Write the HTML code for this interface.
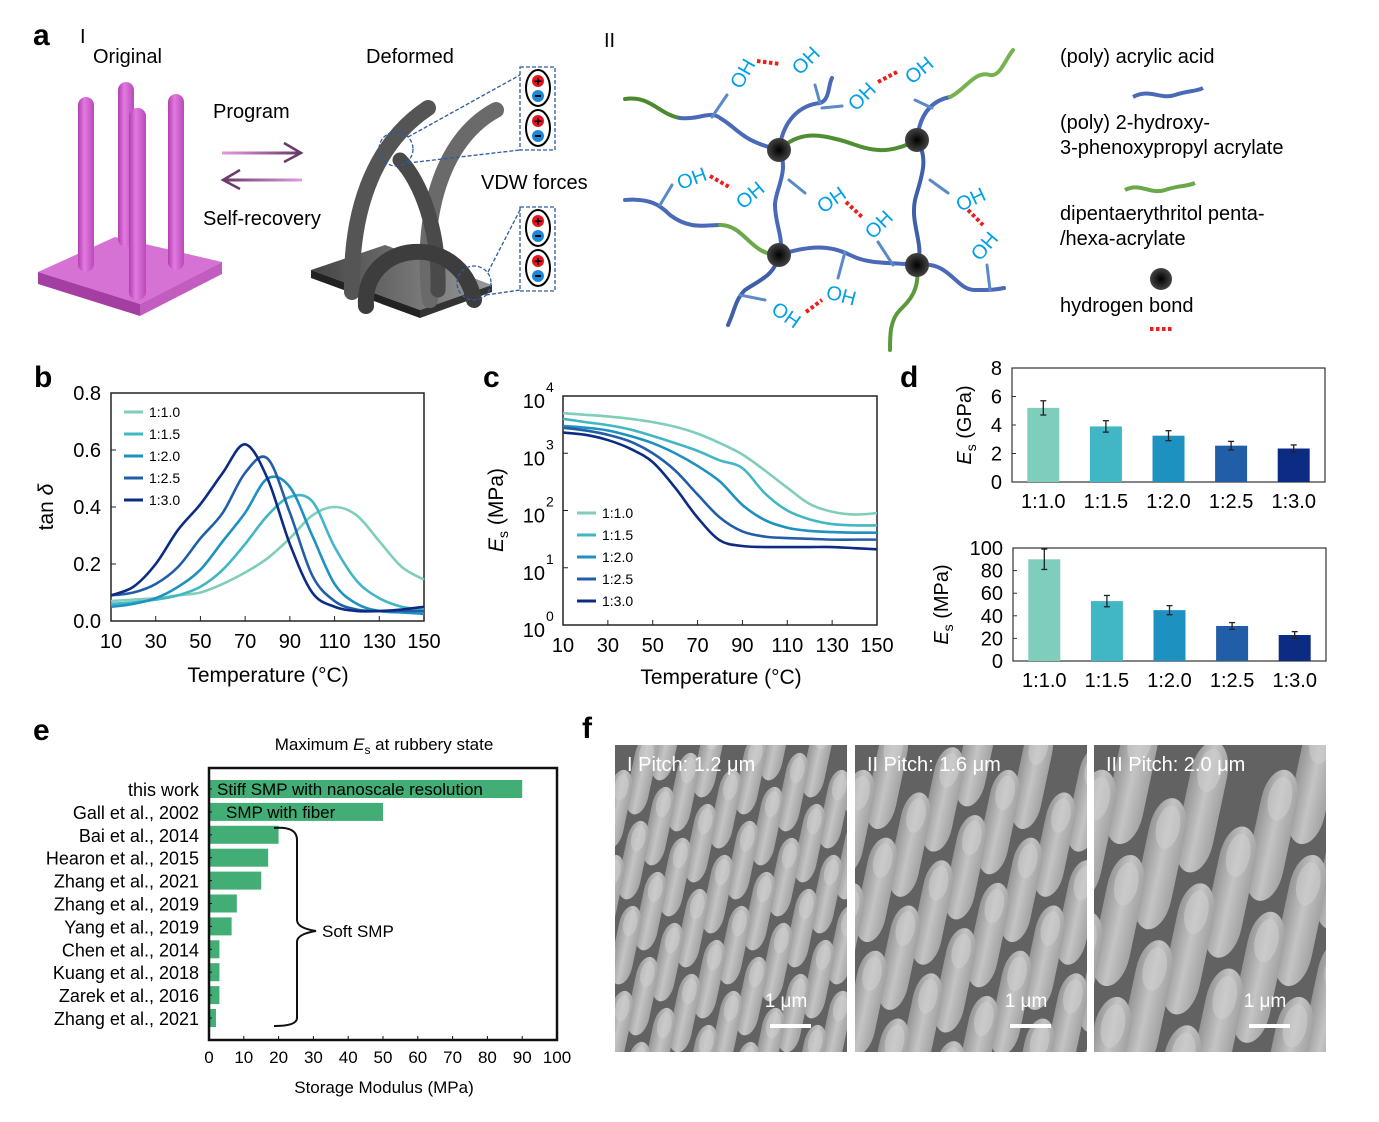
<!DOCTYPE html>
<html><head><meta charset="utf-8">
<style>
html,body{margin:0;padding:0;background:#fff;overflow:hidden;width:1379px;height:1122px;}
svg{display:block;font-family:"Liberation Sans",Arial,sans-serif;}
</style></head>
<body>
<svg id="fig" width="1379" height="1122" viewBox="0 0 1379 1122" xmlns="http://www.w3.org/2000/svg">
<defs>
<linearGradient id="pinkPil" x1="0" x2="1"><stop offset="0" stop-color="#b23fb0"/><stop offset="0.4" stop-color="#e27ae0"/><stop offset="1" stop-color="#b949b8"/></linearGradient>
<linearGradient id="grayBase" x1="0" x2="1"><stop offset="0" stop-color="#444"/><stop offset="1" stop-color="#999"/></linearGradient>
<linearGradient id="arrR" x1="0" x2="1"><stop offset="0" stop-color="#e49be0"/><stop offset="1" stop-color="#6a3a6a"/></linearGradient>
<linearGradient id="arrL" x1="1" x2="0"><stop offset="0" stop-color="#e49be0"/><stop offset="1" stop-color="#6a3a6a"/></linearGradient>
<radialGradient id="node"><stop offset="0" stop-color="#000"/><stop offset="1" stop-color="#444"/></radialGradient>
<linearGradient id="pil" x1="0" x2="1"><stop offset="0" stop-color="#959595"/><stop offset="0.5" stop-color="#c4c4c4"/><stop offset="1" stop-color="#a2a2a2"/></linearGradient>
</defs>

<!-- Panel a -->
<g>
<text x="33" y="45" font-size="30" font-weight="bold">a</text>
<text x="80" y="43" font-size="20">I</text>
<text x="93" y="63" font-size="20">Original</text>
<text x="366" y="63" font-size="20">Deformed</text>
<text x="213" y="118" font-size="20">Program</text>
<text x="203" y="225" font-size="20">Self-recovery</text>
<text x="481" y="189" font-size="20">VDW forces</text>
<g>
<rect x="222" y="151.5" width="78" height="3" fill="url(#arrR)"/>
<path d="M284,143 L301,153 L284,162" fill="none" stroke="#6a3a6a" stroke-width="2.5"/>
<rect x="224" y="178.5" width="78" height="3" fill="url(#arrL)"/>
<path d="M240,170 L223,180 L240,189" fill="none" stroke="#6a3a6a" stroke-width="2.5"/>
</g>
<g>
<polygon points="38,272 115,237 222,262 140,304" fill="#d772d5"/>
<polygon points="38,272 140,304 140,316 38,284" fill="#a53ea3"/>
<polygon points="140,304 222,262 222,274 140,316" fill="#c35cc1"/>
<rect x="118" y="82" width="16" height="165" rx="8" fill="url(#pinkPil)"/>
<rect x="78" y="97" width="16" height="175" rx="8" fill="url(#pinkPil)"/>
<rect x="168" y="94" width="16" height="176" rx="8" fill="url(#pinkPil)"/>
<rect x="129" y="108" width="17" height="192" rx="8" fill="url(#pinkPil)"/>
</g>
<g>
<polygon points="311,270 385,245 492,285 420,310" fill="url(#grayBase)"/>
<polygon points="311,270 420,310 420,318 311,278" fill="#222"/>
<polygon points="420,310 492,285 492,292 420,318" fill="#333"/>
<path d="M352,292 C350,200 380,140 428,108" fill="none" stroke="#555" stroke-width="16" stroke-linecap="round"/>
<path d="M430,300 C420,220 440,140 496,110" fill="none" stroke="#6a6a6a" stroke-width="16" stroke-linecap="round"/>
<path d="M438,290 C440,230 420,180 400,160" fill="none" stroke="#4a4a4a" stroke-width="15" stroke-linecap="round"/>
<path d="M366,306 C362,240 460,230 474,300" fill="none" stroke="#3d3d3d" stroke-width="16" stroke-linecap="round"/>
<ellipse cx="396" cy="149" rx="17" ry="17" fill="none" stroke="#2e5aa0" stroke-width="1.3" stroke-dasharray="4,2"/>
<ellipse cx="474" cy="283" rx="17" ry="17" fill="none" stroke="#2e5aa0" stroke-width="1.3" stroke-dasharray="4,2"/>
<line x1="408" y1="137" x2="520" y2="75" stroke="#2e5aa0" stroke-width="1.3" stroke-dasharray="4,2"/>
<line x1="408" y1="163" x2="520" y2="150" stroke="#2e5aa0" stroke-width="1.3" stroke-dasharray="4,2"/>
<line x1="488" y1="272" x2="520" y2="210" stroke="#2e5aa0" stroke-width="1.3" stroke-dasharray="4,2"/>
<line x1="486" y1="295" x2="520" y2="290" stroke="#2e5aa0" stroke-width="1.3" stroke-dasharray="4,2"/>
<rect x="520" y="67" width="35" height="83" fill="none" stroke="#2e5aa0" stroke-width="1.3" stroke-dasharray="4,2"/>
<rect x="520" y="207" width="35" height="84" fill="none" stroke="#2e5aa0" stroke-width="1.3" stroke-dasharray="4,2"/>
</g>
<g id="dipoles"></g>
</g>

<!-- Panel a II -->
<g>
<text x="604" y="47" font-size="20">II</text>
<g fill="none" stroke-width="4" stroke-linecap="round">
<path d="M625,99 C650,95 660,115 680,118" stroke="#4a8a2e"/>
<path d="M680,118 C700,120 710,110 720,118 C740,130 740,140 779,150" stroke="#4a6ab8"/>
<path d="M779,150 C800,130 820,135 840,140 C860,145 880,160 917,140" stroke="#4f8e33"/>
<path d="M779,150 C783,120 800,105 820,103 C830,100 828,85 832,78" stroke="#4a6ab8"/>
<path d="M917,140 C920,110 935,100 950,97" stroke="#4a6ab8"/>
<path d="M950,97 C965,90 975,70 990,75 C1000,77 1005,60 1013,50" stroke="#76b350"/>
<path d="M779,150 C790,170 775,190 775,205 C775,225 785,240 779,255" stroke="#4a6ab8"/>
<path d="M917,140 C930,160 920,180 915,200 C910,225 925,245 917,265" stroke="#3f5fa8"/>
<path d="M625,200 C650,198 660,205 670,215 C690,230 705,225 720,225" stroke="#4a6ab8"/>
<path d="M720,225 C745,225 750,255 779,255" stroke="#6aa84a"/>
<path d="M779,255 C810,245 830,245 850,255 C870,265 890,262 917,265" stroke="#4a6ab8"/>
<path d="M779,255 C775,275 760,280 745,290 C735,300 735,310 728,325" stroke="#3f5fa8"/>
<path d="M917,265 C920,290 910,300 900,310 C890,320 890,335 890,350" stroke="#5a9a3a"/>
<path d="M917,265 C950,260 955,290 975,290 C990,290 995,290 1004,288" stroke="#4a6ab8"/>
<path d="M712,117 L727,95 M820,103 L815,85 M822,108 L842,106 M915,100 L932,108 M660,205 L672,185 M789,180 L805,193 M845,252 L838,278 M930,180 L948,193 M990,290 L987,265 M740,295 L765,300 M893,265 L878,242" stroke="#5b8ac8" stroke-width="3"/>
</g>
<g fill="#00a0e9" font-size="20">
<text transform="translate(741,90) rotate(-60)">OH</text>
<text transform="translate(800,76) rotate(-45)">OH</text>
<text transform="translate(856,112) rotate(-45)">OH</text>
<text transform="translate(912,85) rotate(-40)">OH</text>
<text transform="translate(680,190) rotate(-20)">OH</text>
<text transform="translate(743,210) rotate(-40)">OH</text>
<text transform="translate(823,214) rotate(-35)">OH</text>
<text transform="translate(873,240) rotate(-45)">OH</text>
<text transform="translate(960,212) rotate(-25)">OH</text>
<text transform="translate(980,262) rotate(-50)">OH</text>
<text transform="translate(770,312) rotate(35)">OH</text>
<text transform="translate(825,298) rotate(15)">OH</text>
</g>
<g stroke="#ee1c1c" stroke-width="4" stroke-dasharray="3.5,2.5">
<line x1="757" y1="61" x2="780" y2="64"/>
<line x1="878" y1="82" x2="897" y2="72"/>
<line x1="710" y1="176" x2="731" y2="188"/>
<line x1="846" y1="202" x2="862" y2="217"/>
<line x1="968" y1="210" x2="983" y2="225"/>
<line x1="806" y1="312" x2="822" y2="300"/>
<line x1="1150" y1="329" x2="1174" y2="329"/>
</g>
<g fill="url(#node)">
<circle cx="779" cy="150" r="12"/><circle cx="917" cy="140" r="12"/><circle cx="779" cy="255" r="12"/><circle cx="917" cy="265" r="12"/>
<circle cx="1161" cy="279" r="11"/>
</g>
<g font-size="20">
<text x="1060" y="63">(poly) acrylic acid</text>
<path d="M1133,97 C1150,88 1160,100 1175,95 C1190,90 1195,92 1203,88" fill="none" stroke="#4a6ab8" stroke-width="4"/>
<text x="1060" y="129">(poly) 2-hydroxy-</text>
<text x="1060" y="154">3-phenoxypropyl acrylate</text>
<path d="M1125,190 C1140,182 1150,195 1165,190 C1180,185 1185,187 1195,183" fill="none" stroke="#6aa84a" stroke-width="4"/>
<text x="1060" y="220">dipentaerythritol penta-</text>
<text x="1060" y="245">/hexa-acrylate</text>
<text x="1060" y="312">hydrogen bond</text>
</g>
</g>

<g id="panelB">
<text x="34" y="387" font-size="30" font-weight="bold">b</text>
</g>
<g id="panelC">
<text x="483" y="387" font-size="30" font-weight="bold">c</text>
</g>
<g id="panelD">
<text x="900" y="387" font-size="30" font-weight="bold">d</text>
</g>
<g id="panelE">
<text x="33" y="740" font-size="30" font-weight="bold">e</text>
</g>
<g id="panelF">
<text x="582" y="738" font-size="30" font-weight="bold">f</text>
</g>
</svg>

<script>
// ---------- data ----------
const ratios = ["1:1.0","1:1.5","1:2.0","1:2.5","1:3.0"];
const seriesColors = ["#7fcdbb","#41b6c4","#1d91c0","#225ea8","#0c2c84"];
const temps = [10,20,30,40,50,60,70,80,90,100,110,120,130,140,150];
const tanD_1_10 = [0.07,0.075,0.08,0.09,0.10,0.13,0.17,0.22,0.29,0.37,0.40,0.37,0.28,0.19,0.145];
const tanD_1_15 = [0.06,0.065,0.075,0.09,0.12,0.18,0.27,0.37,0.435,0.42,0.26,0.14,0.08,0.05,0.04];
const tanD_1_20 = [0.05,0.06,0.08,0.12,0.18,0.28,0.38,0.50,0.47,0.30,0.13,0.06,0.035,0.03,0.025];
const tanD_1_25 = [0.09,0.10,0.13,0.19,0.29,0.38,0.52,0.57,0.38,0.16,0.07,0.04,0.035,0.035,0.035];
const tanD_1_30 = [0.09,0.12,0.20,0.32,0.41,0.52,0.62,0.50,0.27,0.10,0.05,0.035,0.035,0.04,0.05];
const tanTicksY = ["0.0","0.2","0.4","0.6","0.8"];
const tempTicks = [10,30,50,70,90,110,130,150];
const Es_1_10 = [5000,4700,4400,4000,3500,2900,2200,1500,950,500,250,130,95,85,90];
const Es_1_15 = [4000,3500,3100,2600,2000,1500,1100,750,550,200,100,70,58,55,55];
const Es_1_20 = [3000,2800,2500,2000,1500,1000,600,320,125,68,50,44,42,41,41];
const Es_1_25 = [2800,2500,2100,1600,1000,500,190,75,43,35,33,32,31,31,31];
const Es_1_30 = [2300,2100,1700,1200,700,250,75,30,24,23,23,23,23,22,21];
const glassyGPa = [5.2,3.9,3.25,2.55,2.35];
const glassyErr = [0.5,0.4,0.35,0.3,0.25];
const glassyTicks = [0,2,4,6,8];
const rubberyMPa = [90,53,45,31,23];
const rubberyErr = [9,5,4,3,3];
const rubberyTicks = [0,20,40,60,80,100];
const refNames = ["this work","Gall et al., 2002","Bai et al., 2014","Hearon et al., 2015","Zhang et al., 2021","Zhang et al., 2019","Yang et al., 2019","Chen et al., 2014","Kuang et al., 2018","Zarek et al., 2016","Zhang et al., 2021"];
const refValues = [90,50,20,17,15,8,6.5,3,3,3,2];
const refTicks = [0,10,20,30,40,50,60,70,80,90,100];

// ---------- helpers ----------
const NS="http://www.w3.org/2000/svg";
function mk(parent,tag,attrs,text){const e=document.createElementNS(NS,tag);for(const k in attrs)e.setAttribute(k,attrs[k]);if(text!==undefined)e.textContent=text;parent.appendChild(e);return e;}
function smooth(pts){let d="M"+pts[0][0]+","+pts[0][1];for(let i=0;i<pts.length-1;i++){const p0=pts[i-1]||pts[i],p1=pts[i],p2=pts[i+1],p3=pts[i+2]||p2;const c1=[p1[0]+(p2[0]-p0[0])/6,p1[1]+(p2[1]-p0[1])/6],c2=[p2[0]-(p3[0]-p1[0])/6,p2[1]-(p3[1]-p1[1])/6];d+=" C"+c1[0]+","+c1[1]+" "+c2[0]+","+c2[1]+" "+p2[0]+","+p2[1];}return d;}

(function(){const g=document.getElementById('dipoles');[[538,88],[538,128],[538,228],[538,268]].forEach(([x,y])=>{
const el=mk(g,'ellipse',{cx:x,cy:y,rx:12,ry:18,fill:'#fff',stroke:'#000','stroke-width':2});


mk(g,'circle',{cx:x,cy:y-7,r:6,fill:'#e8141c'});mk(g,'text',{x:x,y:y-2,'font-size':14,'font-weight':'bold','text-anchor':'middle'},'+');
mk(g,'circle',{cx:x,cy:y+8,r:6,fill:'#1e88d8'});mk(g,'rect',{x:x-3,y:y+7,width:6,height:2,fill:'#000'});});})();

// ---------- panel b ----------
(function(){const g=document.getElementById('panelB');
const L=111,R=424,T=393,B=621;const xs=t=>L+(t-10)/140*(R-L);const ys=v=>B-v/0.8*(B-T);
const series=[tanD_1_10,tanD_1_15,tanD_1_20,tanD_1_25,tanD_1_30];
const box=mk(g,'rect',{x:L,y:T,width:R-L,height:B-T,fill:'none',stroke:'#222','stroke-width':1.5});


tanTicksY.forEach(t=>{const y=ys(+t);mk(g,'line',{x1:L,x2:L+5,y1:y,y2:y,stroke:'#222'});const lb=mk(g,'text',{x:L-10,y:y+7,'font-size':20,'text-anchor':'end'},t);

});
tempTicks.forEach(t=>{const x=xs(t);mk(g,'line',{x1:x,x2:x,y1:B,y2:B-5,stroke:'#222'});const lb=mk(g,'text',{x:x,y:B+27,'font-size':20,'text-anchor':'middle'},t);

});
series.forEach((s,i)=>{const p=mk(g,'path',{d:smooth(s.map((v,j)=>[xs(temps[j]),ys(v)])),fill:'none',stroke:seriesColors[i],'stroke-width':2.6});

});
ratios.forEach((r,i)=>{const y=413+i*22;mk(g,'line',{x1:124,x2:143,y1:y-1,y2:y-1,stroke:seriesColors[i],'stroke-width':3});const lb=mk(g,'text',{x:149,y:y+4,'font-size':14},r);

});
const xt=mk(g,'text',{x:268,y:682,'font-size':21,'text-anchor':'middle'},'Temperature (°C)');


const yt=mk(g,'text',{transform:'translate(53,507) rotate(-90)','font-size':21,'text-anchor':'middle'});


mk(yt,'tspan',{},'tan ');mk(yt,'tspan',{'font-style':'italic'},'δ');
})();

// ---------- panel c ----------
(function(){const g=document.getElementById('panelC');
const L=563,R=877,T=396,B=625;const xs=t=>L+(t-10)/140*(R-L);const ys=v=>B-Math.log10(v)/4*(B-T);
const series=[Es_1_10,Es_1_15,Es_1_20,Es_1_25,Es_1_30];
const box=mk(g,'rect',{x:L,y:T,width:R-L,height:B-T,fill:'none',stroke:'#222','stroke-width':1.5});


[0,1,2,3,4].forEach(e=>{const y=ys(Math.pow(10,e));mk(g,'line',{x1:L,x2:L+5,y1:y,y2:y,stroke:'#222'});const lb=mk(g,'text',{x:L-18,y:y+12,'font-size':20,'text-anchor':'end'},'10');


mk(g,'text',{x:L-17,y:y-4,'font-size':14},String(e));});
tempTicks.forEach(t=>{const x=xs(t);mk(g,'line',{x1:x,x2:x,y1:B,y2:B-5,stroke:'#222'});const lb=mk(g,'text',{x:x,y:B+27,'font-size':20,'text-anchor':'middle'},t);

});
series.forEach((s,i)=>{const p=mk(g,'path',{d:smooth(s.map((v,j)=>[xs(temps[j]),ys(v)])),fill:'none',stroke:seriesColors[i],'stroke-width':2.6});

});
ratios.forEach((r,i)=>{const y=514+i*22;mk(g,'line',{x1:577,x2:596,y1:y-1,y2:y-1,stroke:seriesColors[i],'stroke-width':3});const lb=mk(g,'text',{x:602,y:y+4,'font-size':14},r);

});
const xt=mk(g,'text',{x:721,y:684,'font-size':21,'text-anchor':'middle'},'Temperature (°C)');


const yt=mk(g,'text',{transform:'translate(503,510) rotate(-90)','font-size':21,'text-anchor':'middle'});


mk(yt,'tspan',{'font-style':'italic'},'E');mk(yt,'tspan',{'font-size':14,dy:5},'s');mk(yt,'tspan',{dy:-5},' (MPa)');
})();

// ---------- panel d ----------
function barChart(g,vals,errs,ticks,maxV,L,R,T,B,unit,titleX,name){
const sub=mk(g,'g',{});


const ys=v=>B-v/maxV*(B-T);const slot=(R-L)/vals.length;
mk(sub,'rect',{x:L,y:T,width:R-L,height:B-T,fill:'none',stroke:'#333','stroke-width':1.2});
ticks.forEach(t=>{const y=ys(t);mk(sub,'line',{x1:L,x2:L+4,y1:y,y2:y,stroke:'#333'});const lb=mk(sub,'text',{x:L-10,y:y+7,'font-size':20,'text-anchor':'end'},t);

});
vals.forEach((v,i)=>{const cx=L+slot*(i+0.5),w=32;
const b=mk(sub,'rect',{x:cx-w/2,y:ys(v),width:w,height:B-ys(v),fill:seriesColors[i]});


const e1=ys(v+errs[i]),e2=ys(v-errs[i]);
mk(sub,'line',{x1:cx,x2:cx,y1:e1,y2:e2,stroke:'#222','stroke-width':1.3});
mk(sub,'line',{x1:cx-3,x2:cx+3,y1:e1,y2:e1,stroke:'#222','stroke-width':1.3});
mk(sub,'line',{x1:cx-3,x2:cx+3,y1:e2,y2:e2,stroke:'#222','stroke-width':1.3});
const lb=mk(sub,'text',{x:cx,y:B+26,'font-size':20,'text-anchor':'middle'},ratios[i]);

});
const yt=mk(sub,'text',{transform:'translate('+titleX+','+((T+B)/2)+') rotate(-90)','font-size':20,'text-anchor':'middle'});


mk(yt,'tspan',{'font-style':'italic'},'E');mk(yt,'tspan',{'font-size':14,dy:5},'s');mk(yt,'tspan',{dy:-5},' ('+unit+')');
}
(function(){const g=document.getElementById('panelD');
barChart(g,glassyGPa,glassyErr,glassyTicks,8,1012,1325,368,482,'GPa',971,'glassy-modulus-chart');
barChart(g,rubberyMPa,rubberyErr,rubberyTicks,100,1013,1326,548,661,'MPa',948,'rubbery-modulus-chart');
})();

// ---------- panel e ----------
(function(){const g=document.getElementById('panelE');
const L=209,R=557,T=768,B=1040;const xs=v=>L+v/100*(R-L);const rowY=i=>789+i*22.9;
const tt=mk(g,'text',{x:384,y:750,'font-size':17,'text-anchor':'middle'});


mk(tt,'tspan',{},'Maximum ');mk(tt,'tspan',{'font-style':'italic'},'E');mk(tt,'tspan',{'font-size':12,dy:4},'s');mk(tt,'tspan',{dy:-4},' at rubbery state');
refValues.forEach((v,i)=>{const y=rowY(i);const b=mk(g,'rect',{x:L,y:y-9,width:xs(v)-L,height:18,fill:'#42ad74'});


mk(g,'line',{x1:L,x2:L+3,y1:y,y2:y,stroke:'#111'});
const lb=mk(g,'text',{x:199,y:y+7,'font-size':18,'text-anchor':'end'},refNames[i]);

});
const box=mk(g,'rect',{x:L,y:T,width:R-L,height:B-T,fill:'none',stroke:'#111','stroke-width':2.5});


refTicks.forEach(t=>{const x=xs(t);mk(g,'line',{x1:x,x2:x,y1:B,y2:B-4,stroke:'#111'});const lb=mk(g,'text',{x:x,y:B+23,'font-size':17,'text-anchor':'middle'},t);

});
const a1=mk(g,'text',{x:217,y:795,'font-size':17},'Stiff SMP with nanoscale resolution');


const a2=mk(g,'text',{x:226,y:818,'font-size':17},'SMP with fiber');


const br=mk(g,'path',{d:'M274,828 Q297,826 297,840 L297,920 Q297,928 316,931 Q297,934 297,942 L297,1018 Q297,1026 274,1026',fill:'none',stroke:'#111','stroke-width':2});


const a3=mk(g,'text',{x:322,y:937,'font-size':17},'Soft SMP');


const xt=mk(g,'text',{x:384,y:1093,'font-size':17,'text-anchor':'middle'},'Storage Modulus (MPa)');


})();

// ---------- panel f ----------
(function(){const g=document.getElementById('panelF');
const imgs=[{x:615,label:'I Pitch: 1.2 μm',s:1},{x:855,label:'II Pitch: 1.6 μm',s:1.33},{x:1094,label:'III Pitch: 2.0 μm',s:1.67}];
imgs.forEach((im,k)=>{const sub=mk(g,'g',{});


const cid='clip'+k;const cp=mk(sub,'clipPath',{id:cid});mk(cp,'rect',{x:im.x,y:745,width:232,height:307});
const inner=mk(sub,'g',{'clip-path':'url(#'+cid+')'});
mk(inner,'rect',{x:im.x,y:745,width:232,height:307,fill:'#626262'});
const s=im.s;const u=[42*s,17*s],v=[25*s,-34*s];const w=22*s,h=80*s;
const pts=[];
for(let i=-12;i<14;i++){for(let j=-12;j<14;j++){const x=im.x+10+i*u[0]+j*v[0];const y=770+i*u[1]+j*v[1];
if(x>im.x-40&&x<im.x+272&&y>700&&y<1060)pts.push([x,y]);}}
pts.sort((a,b)=>a[1]-b[1]);
pts.forEach(([x,y])=>{
mk(inner,'rect',{x:x-w/2,y:y,width:w,height:h,rx:w/2,ry:w*0.9,fill:'url(#pil)',transform:'rotate(12 '+x+' '+y+')'});
mk(inner,'ellipse',{cx:x,cy:y+w*0.8,rx:w*0.32,ry:w*0.6,fill:'#d0d0d0',opacity:0.55,transform:'rotate(12 '+x+' '+y+')'});
});
const lb=mk(sub,'text',{x:im.x+12,y:771,'font-size':20,fill:'#fff'},im.label);


const sb=mk(sub,'text',{x:im.x+171,y:1007,'font-size':19,fill:'#fff','text-anchor':'middle'},'1 μm');


mk(sub,'rect',{x:im.x+155,y:1024,width:41,height:4,fill:'#fff'});
});})();
</script>
</body></html>
